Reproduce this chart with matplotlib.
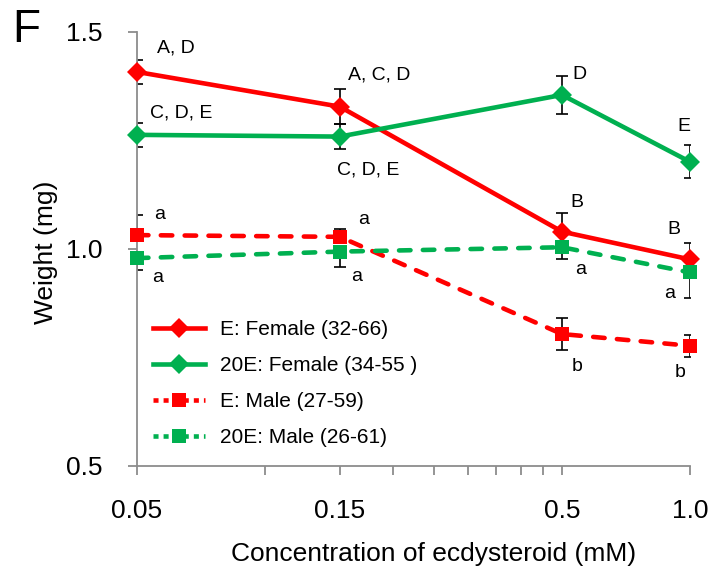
import matplotlib
matplotlib.use('Agg')
import matplotlib.pyplot as plt
from matplotlib.lines import Line2D
from matplotlib.ticker import FixedLocator, NullFormatter

plt.rcParams['font.family'] = ['Liberation Sans', 'DejaVu Sans']

# data
conc = [0.05, 0.15, 0.5, 1.0]
conc_labels = ['0.05', '0.15', '0.5', '1.0']

e_female = [1.408, 1.328, 1.040, 0.976]
e_female_lo = [0.028, 0.040, 0.0, 0.0]
e_female_hi = [0.028, 0.040, 0.042, 0.038]

h_female = [1.263, 1.259, 1.355, 1.201]
h_female_lo = [0.028, 0.028, 0.044, 0.038]
h_female_hi = [0.028, 0.028, 0.044, 0.038]

e_male = [1.032, 1.028, 0.804, 0.777]
e_male_lo = [0.0, 0.0, 0.036, 0.025]
e_male_hi = [0.046, 0.018, 0.036, 0.025]

h_male = [0.979, 0.994, 1.004, 0.946]
h_male_lo = [0.027, 0.035, 0.028, 0.058]
h_male_hi = [0.0, 0.0, 0.0, 0.0]

e_female_letters = ['A, D', 'A, C, D', 'B', 'B']
h_female_letters = ['C, D, E', 'C, D, E', 'D', 'E']
e_male_letters = ['a', 'a', 'b', 'b']
h_male_letters = ['a', 'a', 'a', 'a']

series_names = ['E: Female (32-66)', '20E: Female (34-55 )',
                'E: Male (27-59)', '20E: Male (26-61)']

RED = '#FF0000'
GREEN = '#00B050'
AXC = '#8C8C8C'


def main():
    fig = plt.figure(figsize=(7.12, 5.86), dpi=100)
    ax = fig.add_axes([0.1924, 0.2048, 0.7766, 0.7406])

    lw = 3.3
    ms = 10
    dash = (2.5, 2.7)

    styles = [
        (e_female, e_female_lo, e_female_hi, RED, 'D', '-'),
        (h_female, h_female_lo, h_female_hi, GREEN, 'D', '-'),
        (e_male, e_male_lo, e_male_hi, RED, 's', (0, dash)),
        (h_male, h_male_lo, h_male_hi, GREEN, 's', (0, dash)),
    ]
    for i, (y, lo, hi, c, m, ls) in enumerate(styles):
        ax.errorbar(conc, y, yerr=[lo, hi], fmt='none', ecolor='black',
                    elinewidth=1.2, capsize=4.4, capthick=1.2, zorder=2)
        ax.plot(conc, y, color=c, lw=lw, linestyle=ls, marker=m,
                markersize=ms if m == 's' else 9.7, markeredgewidth=0,
                dash_capstyle='round', zorder=3 + i, clip_on=False)

    # significance letters, offsets in pixels
    notes = [
        (e_female, e_female_letters, [(39, 24), (39, 32), (15, 29), (-16, 30)]),
        (h_female, h_female_letters, [(44, 22), (28, -33), (17, 20), (-6, 35)]),
        (e_male, e_male_letters, [(23, 21), (24, 17), (15, -32), (-10, -27)]),
        (h_male, h_male_letters, [(21, -19), (17, -25), (19, -22), (-20, -21)]),
    ]
    for y, letters, offs in notes:
        for xv, yv, t, (dx, dy) in zip(conc, y, letters, offs):
            ax.annotate(t, (xv, yv), xytext=(dx, dy), textcoords='offset pixels',
                        ha='center', va='center', fontsize=14, zorder=10)

    ax.set_xscale('log')
    ax.set_xlim(0.05, 1.0)
    ax.set_ylim(0.5, 1.5)
    ax.xaxis.set_major_locator(FixedLocator(conc))
    ax.set_xticklabels(conc_labels)
    ax.xaxis.set_minor_locator(FixedLocator([0.1, 0.2, 0.25, 0.3, 0.35, 0.4, 0.45]))
    ax.xaxis.set_minor_formatter(NullFormatter())
    ax.set_yticks([0.5, 1.0, 1.5])
    ax.set_yticklabels(['0.5', '1.0', '1.5'])

    for s in ['top', 'right']:
        ax.spines[s].set_visible(False)
    for s in ['left', 'bottom']:
        ax.spines[s].set_color(AXC)
        ax.spines[s].set_linewidth(1.3)
    ax.tick_params(axis='both', which='both', direction='out', color=AXC,
                   width=1.3, length=6.5, labelsize=19)
    ax.tick_params(axis='x', which='both', pad=17)
    ax.tick_params(axis='y', pad=18)

    ax.set_xlabel('Concentration of ecdysteroid (mM)', fontsize=19)
    ax.xaxis.set_label_coords(0.537, -0.175)
    ax.set_ylabel('Weight (mg)', fontsize=19)
    ax.yaxis.set_label_coords(-0.143, 0.493)

    handles = [
        Line2D([], [], color=RED, lw=lw, marker='D', markersize=9.7, markeredgewidth=0),
        Line2D([], [], color=GREEN, lw=lw, marker='D', markersize=9.7, markeredgewidth=0),
        Line2D([], [], color=RED, lw=lw, linestyle=(0, (1.1, 1.1)), marker='s',
               markersize=ms, markeredgewidth=0),
        Line2D([], [], color=GREEN, lw=lw, linestyle=(0, (1.1, 1.1)), marker='s',
               markersize=ms, markeredgewidth=0),
    ]
    ax.legend(handles, series_names, loc='upper left',
              bbox_to_anchor=(153 / 712, 1 - 320 / 586),
              bbox_transform=fig.transFigure, frameon=False, fontsize=15,
              handlelength=2.5, handletextpad=0.7, labelspacing=0.82,
              borderpad=0, borderaxespad=0)

    fig.text(12 / 712, 1 - 8 / 586, 'F', fontsize=33, va='top', ha='left')

    fig.savefig('out.png', dpi=100)


if __name__ == '__main__':
    main()
